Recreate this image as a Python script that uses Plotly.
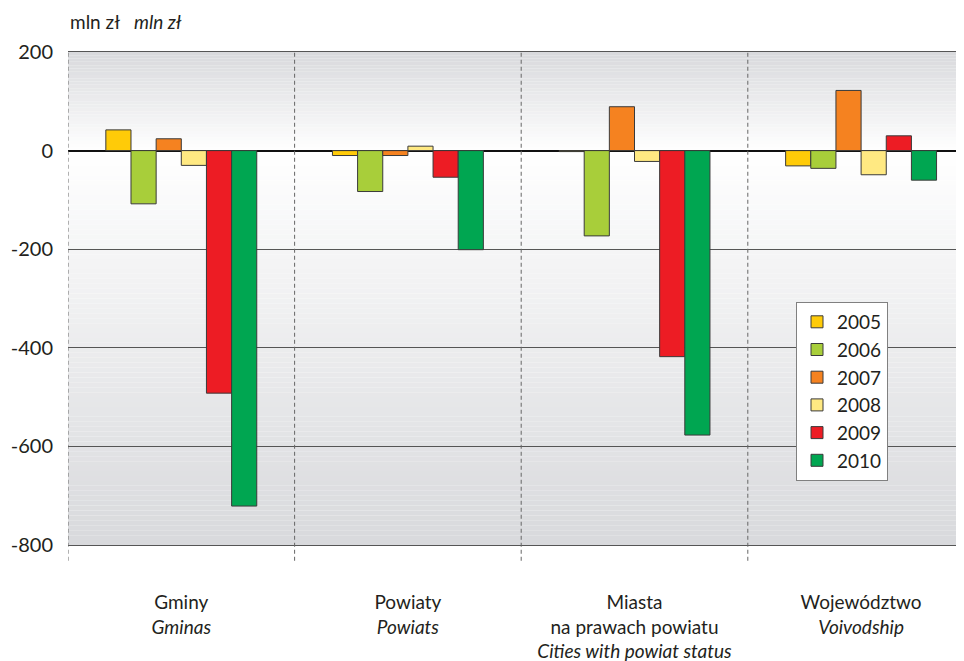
import plotly.graph_objects as go
import numpy as np

# ---- data ----
categories = [
    "Gminy<br><i>Gminas</i>",
    "Powiaty<br><i>Powiats</i>",
    "Miasta<br>na prawach powiatu<br><i>Cities with powiat status</i>",
    "Województwo<br><i>Voivodship</i>",
]
years = ["2005", "2006", "2007", "2008", "2009", "2010"]
v2005 = [42, -10, -2, -31]
v2006 = [-108, -83, -173, -36]
v2007 = [24, -10, 89, 122]
v2008 = [-30, 9, -22, -49]
v2009 = [-492, -54, -418, 30]
v2010 = [-721, -201, -577, -60]
series = [v2005, v2006, v2007, v2008, v2009, v2010]
colors = ["#FFCB08", "#A8CE3A", "#F58220", "#FFE982", "#ED1C24", "#00A651"]
ytickvals = [200, 0, -200, -400, -600, -800]
yticktext = ["200", "0", "-200", "-400", "-600", "-800"]

FONT = "Lato"
TXT = "#231f20"

xpos = list(range(len(categories)))

fig = go.Figure()
for name, vals, col in zip(years, series, colors):
    fig.add_trace(go.Bar(
        x=xpos, y=vals, name=name, legendgroup=name,
        marker=dict(color=col, line=dict(color="#3a3a3a", width=1)),
    ))

# ---- gradient background bands ----
shapes = []
top = np.array([216, 217, 220])
white = np.array([255, 255, 255])
n_up, n_dn = 30, 80
edges_up = np.linspace(0, 200, n_up + 1)
for i in range(n_up):
    t = (edges_up[i] + edges_up[i + 1]) / 2 / 200
    c = white + (top - white) * t
    shapes.append(dict(type="rect", xref="paper", yref="y", x0=0, x1=1,
                       y0=edges_up[i], y1=edges_up[i + 1], layer="below",
                       line=dict(width=0),
                       fillcolor="rgb(%d,%d,%d)" % tuple(c.round().astype(int))))
edges_dn = np.linspace(0, -800, n_dn + 1)
for i in range(n_dn):
    t = -(edges_dn[i] + edges_dn[i + 1]) / 2 / 800
    c = white + (top - white) * t
    shapes.append(dict(type="rect", xref="paper", yref="y", x0=0, x1=1,
                       y0=edges_dn[i + 1], y1=edges_dn[i], layer="below",
                       line=dict(width=0),
                       fillcolor="rgb(%d,%d,%d)" % tuple(c.round().astype(int))))

# dashed category dividers
for k in range(len(categories)):
    shapes.append(dict(type="line", xref="x", yref="paper", x0=k - 0.5, x1=k - 0.5,
                       y0=-0.032, y1=1, layer="above",
                       line=dict(color="#666666", width=1, dash="4px,3px")))

# page body has an 8px margin, so the figure is sized/offset to compensate
fig.update_layout(
    width=956, height=653,
    margin=dict(l=60, r=0, t=44, b=116),
    paper_bgcolor="white", plot_bgcolor="white",
    font=dict(family=FONT, color=TXT, size=18),
    barmode="group", bargap=0.334, bargroupgap=0,
    shapes=shapes,
    showlegend=True,
    legend=dict(
        x=0.8125, y=0.493, xanchor="left", yanchor="top",
        bgcolor="white", bordercolor="#808080", borderwidth=1,
        font=dict(family=FONT, size=19, color=TXT),
        traceorder="normal", tracegroupgap=0,
    ),
    annotations=[dict(
        xref="paper", yref="paper", x=0, y=1 + 30 / 493, xanchor="left", yanchor="middle",
        text="mln zł &nbsp; <i>mln zł</i>", showarrow=False,
        font=dict(family=FONT, size=19, color=TXT),
    )],
)

fig.update_xaxes(
    tickvals=xpos, ticktext=categories, range=[-0.5, -0.5 + 896 / 226.6],
    showgrid=False, zeroline=False, automargin=False,
    showline=True, mirror=True, linecolor="#555555", linewidth=1,
    ticks="", ticklabelstandoff=40,
    tickfont=dict(family=FONT, size=19, color=TXT),
)
fig.update_yaxes(
    range=[-800, 200], tickvals=ytickvals, ticktext=yticktext,
    showgrid=True, gridcolor="#555555", gridwidth=1,
    zeroline=True, zerolinecolor="#111111", zerolinewidth=1.5,
    showline=False, ticks="", ticklabelstandoff=14, automargin=False,
    tickfont=dict(family=FONT, size=20, color=TXT),
)

fig.write_html("out.html")
